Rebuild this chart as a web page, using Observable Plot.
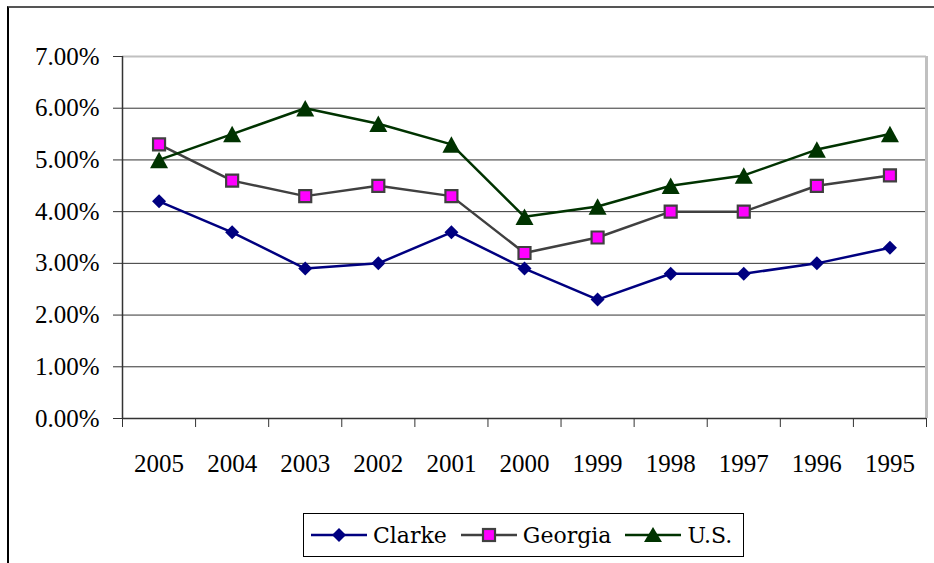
<!DOCTYPE html>
<html>
<head>
<meta charset="utf-8">
<script src="https://cdn.jsdelivr.net/npm/d3@7"></script>
<script src="https://cdn.jsdelivr.net/npm/@observablehq/plot@0.6"></script>
<style>
  html, body { margin: 0; padding: 0; background: #fff; width: 934px; height: 563px; overflow: hidden; }
  #frame { position: absolute; left: 7px; top: 6px; width: 1000px; height: 1000px; border-top: 2px solid #555; border-left: 2px solid #000; box-sizing: border-box; }
  #chart { position: absolute; left: 0; top: 0; }
  #legend { position: absolute; left: 303px; top: 513px; width: 441px; height: 44px; border: 1px solid #000; box-sizing: border-box; background: #fff;
            display: flex; align-items: center; padding-left: 7px; font-family: "DejaVu Serif", serif; font-size: 22px; color: #000; }
  .item { display: flex; align-items: center; margin-right: 14px; }
  .item svg { display: block; }
  .item span { margin-left: 6px; line-height: 1; position: relative; top: 1px; }
</style>
</head>
<body>
<div id="frame"></div>
<div id="chart"></div>
<div id="legend"></div>
<script>
const years = ["2005", "2004", "2003", "2002", "2001", "2000", "1999", "1998", "1997", "1996", "1995"];
const clarke = [4.2, 3.6, 2.9, 3.0, 3.6, 2.9, 2.3, 2.8, 2.8, 3.0, 3.3];
const georgia = [5.3, 4.6, 4.3, 4.5, 4.3, 3.2, 3.5, 4.0, 4.0, 4.5, 4.7];
const us = [5.0, 5.5, 6.0, 5.7, 5.3, 3.9, 4.1, 4.5, 4.7, 5.2, 5.5];
const seriesNames = ["Clarke", "Georgia", "U.S."];
const yTicks = [0, 0.01, 0.02, 0.03, 0.04, 0.05, 0.06, 0.07];

const lineColors = {"Clarke": "#000080", "Georgia": "#404040", "U.S.": "#003300"};

const rows = s => (v => years.map((yr, i) => ({i, year: yr, series: s, v: v[i] / 100})));
const clarkeRows = rows("Clarke")(clarke);
const georgiaRows = rows("Georgia")(georgia);
const usRows = rows("U.S.")(us);
const all = [...clarkeRows, ...georgiaRows, ...usRows];

const idx = years.map((_, i) => i);
const bounds = [...years.map((_, i) => i - 0.5), years.length - 0.5];

// custom symbols (size = pi r^2)
const rad = size => Math.sqrt(size / Math.PI);
const diamondSym = {draw(ctx, size) { const r = rad(size); ctx.moveTo(0, -r); ctx.lineTo(r, 0); ctx.lineTo(0, r); ctx.lineTo(-r, 0); ctx.closePath(); }};
const squareSym = {draw(ctx, size) { const r = rad(size); ctx.moveTo(-r, -r); ctx.lineTo(r, -r); ctx.lineTo(r, r); ctx.lineTo(-r, r); ctx.closePath(); }};
const triSym = {draw(ctx, size) { const r = rad(size); const h = r * 0.92; ctx.moveTo(0, -h); ctx.lineTo(r, h); ctx.lineTo(-r, h); ctx.closePath(); }};

const chart = Plot.plot({
  width: 934,
  height: 563,
  marginLeft: 122,
  marginRight: 8,
  marginTop: 56,
  marginBottom: 145,
  style: {fontFamily: "'Liberation Serif', 'Times New Roman', serif", fontSize: "25px", background: "transparent", color: "#000", overflow: "visible"},
  x: {domain: [-0.5, years.length - 0.5]},
  y: {domain: [0, 0.07]},
  color: {domain: seriesNames, range: seriesNames.map(s => lineColors[s])},
  marks: [
    Plot.ruleY(yTicks.slice(1, 7), {stroke: "#333", strokeWidth: 1}),
    Plot.ruleY([0.07], {stroke: "#c0c0c0", strokeWidth: 2}),
    Plot.ruleX([years.length - 0.5], {stroke: "#c0c0c0", strokeWidth: 3}),
    Plot.axisY({ticks: yTicks, tickFormat: d3.format(".2%"), tickSize: 9, tickPadding: 14, stroke: "#333", fill: "#000", label: null}),
    Plot.ruleX([-0.5], {stroke: "#333", strokeWidth: 1.5}),
    Plot.ruleY([0], {stroke: "#333", strokeWidth: 1.5}),
    Plot.axisX({ticks: bounds, tickSize: 9, tickFormat: () => "", stroke: "#333", label: null}),
    Plot.axisX({ticks: idx, tickSize: 0, tickPadding: 36, tickFormat: i => years[i], fill: "#000", label: null}),
    Plot.line(all, {x: "i", y: "v", z: "series", stroke: "series", strokeWidth: 2.5}),
    Plot.dot(clarkeRows, {x: "i", y: "v", symbol: diamondSym, r: 7, fill: lineColors["Clarke"]}),
    Plot.dot(georgiaRows, {x: "i", y: "v", symbol: squareSym, r: 6, fill: "#ff00ff", stroke: "#404040", strokeWidth: 2.2}),
    Plot.dot(usRows, {x: "i", y: "v", symbol: triSym, r: 9, fill: lineColors["U.S."]})
  ]
});
document.getElementById("chart").appendChild(chart);

// legend
const iconSvg = {
  "Clarke": `<polygon points="28,4 35,11 28,18 21,11" fill="#000080"/>`,
  "Georgia": `<rect x="22" y="5" width="12" height="12" fill="#ff00ff" stroke="#404040" stroke-width="2.2"/>`,
  "U.S.": `<polygon points="28,3 37,18 19,18" fill="#003300"/>`
};
const legend = document.getElementById("legend");
seriesNames.forEach(s => {
  const item = document.createElement("div");
  item.className = "item";
  item.innerHTML = `<svg width="56" height="22" viewBox="0 0 56 22"><line x1="0" y1="11" x2="56" y2="11" stroke="${lineColors[s]}" stroke-width="2.5"/>${iconSvg[s]}</svg><span>${s}</span>`;
  legend.appendChild(item);
});
</script>
</body>
</html>
